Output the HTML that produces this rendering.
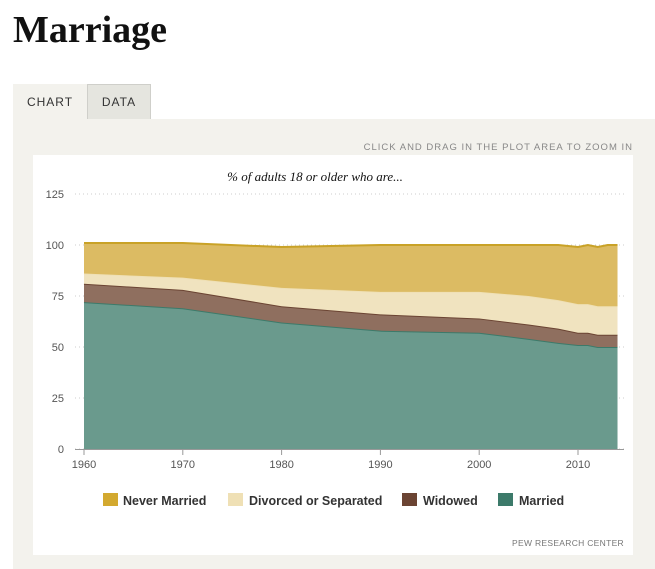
<!DOCTYPE html>
<html><head><meta charset="utf-8"><style>
body{margin:0;width:655px;height:569px;background:#fff;font-family:"Liberation Sans",sans-serif;position:relative;overflow:hidden}
.abs{position:absolute}
</style></head><body>
<div class="abs" style="left:13px;top:8px;font-family:'Liberation Serif',serif;font-weight:bold;font-size:38px;color:#111">Marriage</div>
<div class="abs" style="left:13px;top:84px;width:74px;height:36px;background:#f3f2ed;font-size:12px;letter-spacing:1px;color:#333;text-align:center;line-height:36px">CHART</div>
<div class="abs" style="left:87px;top:84px;width:62px;height:35px;background:#e5e5df;border:1px solid #cfcfca;border-bottom:none;font-size:12px;letter-spacing:1px;color:#333;text-align:center;line-height:35px">DATA</div>
<div class="abs" style="left:13px;top:119px;width:642px;height:450px;background:#f3f2ed"></div>
<div class="abs" style="right:22px;top:142px;font-size:9.5px;letter-spacing:1px;color:#888">CLICK AND DRAG IN THE PLOT AREA TO ZOOM IN</div>
<div class="abs" style="left:33px;top:155px;width:600px;height:400px;background:#fff"></div>
<svg class="abs" style="left:0;top:0" width="655" height="569">
<text x="315" y="181" text-anchor="middle" font-family="Liberation Serif,serif" font-style="italic" font-size="13" fill="#111">% of adults 18 or older who are...</text>
<g id="grid"></g><g id="areas"></g><g id="axes"></g>
<g font-size="12.5" font-weight="bold" fill="#333">
<g><rect x="103" y="493" width="15" height="13" fill="#d3a92f"/><text x="123" y="505">Never Married</text></g>
<g><rect x="228" y="493" width="15" height="13" fill="#efe0b5"/><text x="249" y="505">Divorced or Separated</text></g>
<g><rect x="402" y="493" width="15" height="13" fill="#6b4433"/><text x="423" y="505">Widowed</text></g>
<g><rect x="498" y="493" width="15" height="13" fill="#3c7a6a"/><text x="519" y="505">Married</text></g>
</g>
<text x="624" y="546" text-anchor="end" font-size="8.5" fill="#777" letter-spacing="0.3">PEW RESEARCH CENTER</text>
</svg>
<script>
const years=[1960,1970,1980,1990,2000,2005,2008,2010,2011,2012,2013,2014];
const married=[72,69,62,58,57,54,52,51,51,50,50,50];
const widowed=[9,9,8,8,7,7,7,6,6,6,6,6];
const divorced=[5,6,9,11,13,14,14,14,14,14,14,14];
const neverMarried=[15,17,20,23,23,25,27,28,29,29,30,30];
const yTicks=[0,25,50,75,100,125];
const xTicks=[1960,1970,1980,1990,2000,2010];
const NS="http://www.w3.org/2000/svg";
const X=y=>84+(y-1960)*9.88, Y=v=>449-v*2.04;
function mk(t,a,p){const e=document.createElementNS(NS,t);for(const k in a)e.setAttribute(k,a[k]);p.appendChild(e);return e;}
const grid=document.getElementById('grid'),axes=document.getElementById('axes'),areas=document.getElementById('areas');
yTicks.forEach(v=>{
 const l=mk('line',{x1:75,x2:624,y1:Y(v),y2:Y(v),stroke:'#ccc','stroke-dasharray':'1,3'},grid);
 
 const t=mk('text',{x:64,y:Y(v)+4,'text-anchor':'end','font-size':11,fill:'#555'},axes);t.textContent=v;
 
});
mk('line',{x1:75,x2:624,y1:449.5,y2:449.5,stroke:'#999'},axes);
xTicks.forEach(v=>{
 mk('line',{x1:X(v),x2:X(v),y1:449,y2:455,stroke:'#999'},axes);
 const t=mk('text',{x:X(v),y:468,'text-anchor':'middle','font-size':11,fill:'#555'},axes);t.textContent=v;
 
});
const series=[[married,'#6a9a8d','#3c7a6a','area-married'],[widowed,'#8f6f5f','#6b4433','area-widowed'],[divorced,'#f0e3bf','#efe0b5','area-divorced'],[neverMarried,'#dcbb63','#c9a227','area-never-married']];
let base=years.map(()=>0);
series.forEach(([d,fill,line,name])=>{
 const top=base.map((b,i)=>b+d[i]);
 let p=years.map((y,i)=>(i?'L':'M')+X(y)+','+Y(top[i])).join('');
 const bp=years.map((y,i)=>'L'+X(y)+','+Y(base[i])).reverse().join('');
 const a=mk('path',{d:p+bp+'Z',fill:fill},areas);
 
 const l=mk('path',{d:p,fill:'none',stroke:line,'stroke-width':2},areas);
 
 base=top;
});
</script>
</body></html>
